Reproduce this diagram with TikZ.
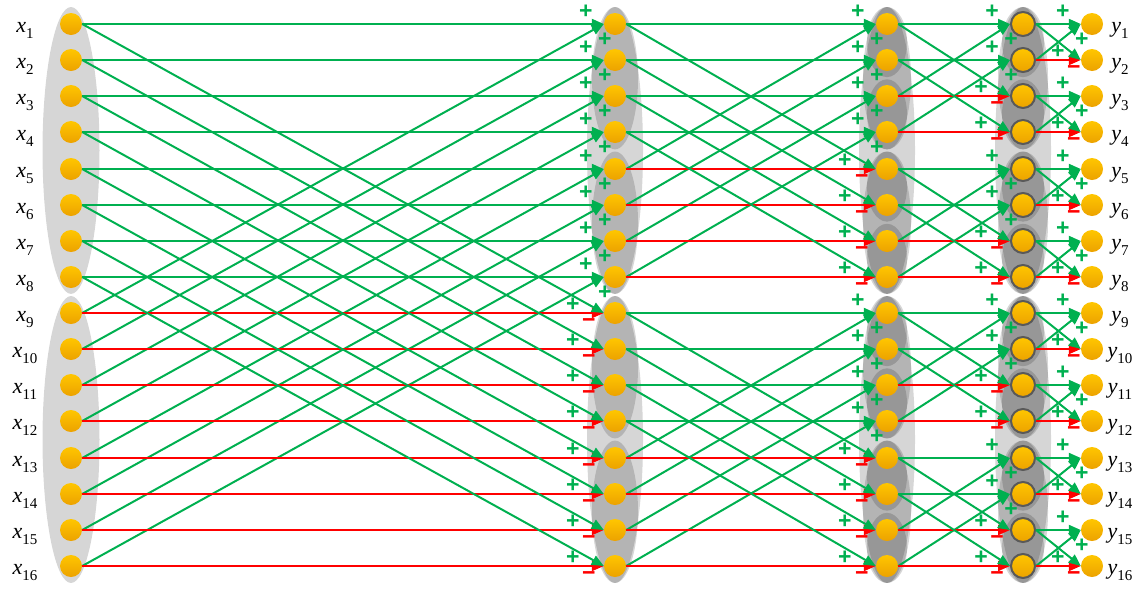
\documentclass[tikz,border=0pt]{standalone}
\usepackage{fontspec}
\setmainfont{Liberation Serif}
\newfontfamily\signfont{Liberation Sans}
\usetikzlibrary{arrows.meta, calc}
\definecolor{addgreen}{RGB}{0,176,80}
\definecolor{subred}{RGB}{255,0,0}
\definecolor{balltop}{RGB}{255,198,0}
\definecolor{ballbot}{RGB}{236,162,0}
\newcommand{\lbl}[2]{{\fontsize{22}{22}\selectfont\itshape #1}\raisebox{-6pt}{\fontsize{15}{15}\selectfont #2}}
\newcommand{\sgn}[1]{{\signfont\bfseries\fontsize{23}{23}\selectfont #1}}

\begin{document}
\begin{tikzpicture}[x=1pt, y=-1pt, >={Triangle[length=12pt,width=10pt]},
  ball/.style={circle, minimum size=22pt, inner sep=0pt,
    top color=balltop, bottom color=ballbot},
  ring/.style={draw=black!65, line width=2pt, minimum size=24pt},
  halo/.style={fill=black, fill opacity=0.16},
  addline/.style={draw=addgreen, line width=2pt},
  subline/.style={draw=subred, line width=2pt},
  addsign/.style={text=addgreen, inner sep=0pt},
  subsign/.style={text=subred, inner sep=0pt}]
\useasboundingbox (0,0) rectangle (1145,590);

% grey groups
\foreach \cx/\rx/\n in {71/28.5/8, 615/28/8, 615/23/4, 887/28/8, 887/24/4,
    887/20/2, 1023/28/8, 1023/25/4, 1023/21/2} {
  \pgfmathtruncatemacro\last{16/\n-1}
  \foreach \g in {0,...,\last} {
    \pgfmathsetmacro\cy{24+(\g*\n+(\n-1)/2)*36.13}
    \pgfmathsetmacro\ry{(\n-1)/2*36.13+17}
    \fill[halo] (\cx,\cy) ellipse [x radius=\rx pt, y radius=\ry pt];
  }
}

% nodes and labels
\foreach \i in {1,...,16} {
  \pgfmathtruncatemacro\yy{24+round((\i-1)*36.13)}
  \node[ball] (x\i) at (71,\yy) {};
  \node[ball] (p\i) at (615,\yy) {};
  \node[ball] (q\i) at (887,\yy) {};
  \node[ball, ring] (r\i) at (1023,\yy) {};
  \node[ball] (y\i) at (1092,\yy) {};
  \node[anchor=base] (xl\i) at (25,\yy+8) {\lbl{x}{\i}};
  \node[anchor=base] (yl\i) at (1120,\yy+8) {\lbl{y}{\i}};
}

% butterflies
\foreach \src/\dst/\hh/\subx/\addx in {x/p/8/15/31, p/q/4/14/31, q/r/2/13/29, r/y/1/7/23} {
  \foreach \k in {1,...,16} {
    \pgfmathtruncatemacro\off{mod(\k-1,2*\hh)}
    \ifnum\off<\hh
      \pgfmathtruncatemacro\mate{\k+\hh}
      \path (\src\k.east) edge[addline, ->] (\dst\k.west)
            (\src\mate.east) edge[addline, ->] (\dst\k.west);
      \node[addsign] (\dst\k-h) at ($(\dst\k.west)+(-18,-12)$) {\sgn{+}};
      \node[addsign] (\dst\k-d) at ($(\dst\k.west)+(1,16)$) {\sgn{+}};
    \else
      \pgfmathtruncatemacro\mate{\k-\hh}
      \path (\src\k.east) edge[subline, ->] (\dst\k.west)
            (\src\mate.east) edge[addline, ->] (\dst\k.west);
      \node[subsign] (\dst\k-h) at ($(\dst\k.west)+(-\subx,10)$) {\sgn{−}};
      \node[addsign] (\dst\k-d) at ($(\dst\k.west)+(-\addx,-8)$) {\sgn{+}};
    \fi
  }
}
\end{tikzpicture}
\end{document}
